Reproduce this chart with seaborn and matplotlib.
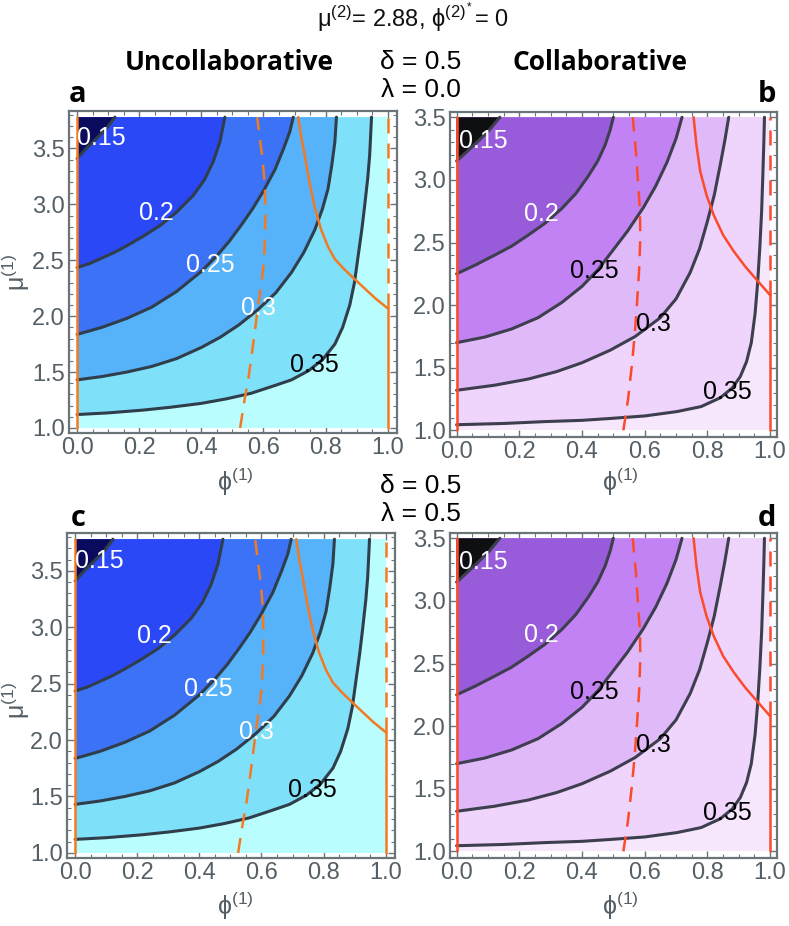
import matplotlib
matplotlib.use("Agg")
import numpy as np
import pandas as pd
import matplotlib.pyplot as plt
import seaborn as sns

# contour levels and label text
levels = [0.15, 0.2, 0.25, 0.3, 0.35]
level_labels = ["0.15", "0.2", "0.25", "0.3", "0.35"]

# ---- Uncollaborative (panels a, c): contour lines ----
u15_phi = [0.0, 0.03, 0.063, 0.095, 0.122]
u15_mu = [3.41, 3.50, 3.59, 3.68, 3.78]
u20_phi = [0.0, 0.04, 0.08, 0.12, 0.16, 0.21, 0.267, 0.32, 0.374, 0.41, 0.438, 0.46, 0.476]
u20_mu = [2.435, 2.47, 2.52, 2.57, 2.63, 2.71, 2.81, 2.93, 3.08, 3.22, 3.38, 3.56, 3.78]
u25_phi = [0.0, 0.08, 0.16, 0.24, 0.32, 0.40, 0.45, 0.49, 0.53, 0.565, 0.60, 0.637, 0.665, 0.685, 0.696]
u25_mu = [1.837, 1.90, 1.98, 2.08, 2.22, 2.40, 2.54, 2.67, 2.82, 2.96, 3.12, 3.31, 3.50, 3.65, 3.78]
u30_phi = [0.0, 0.08, 0.16, 0.24, 0.32, 0.40, 0.46, 0.52, 0.583, 0.64, 0.69, 0.73, 0.765, 0.79,
           0.808, 0.82, 0.83, 0.835]
u30_mu = [1.43, 1.46, 1.50, 1.55, 1.62, 1.72, 1.81, 1.92, 2.06, 2.21, 2.39, 2.57, 2.77, 2.96,
          3.14, 3.35, 3.56, 3.78]
u35_phi = [0.0, 0.1, 0.213, 0.30, 0.40, 0.48, 0.56, 0.637, 0.69, 0.744, 0.79, 0.83, 0.855, 0.878,
           0.893, 0.905, 0.917, 0.926, 0.936, 0.942, 0.948]
u35_mu = [1.12, 1.135, 1.16, 1.185, 1.22, 1.26, 1.31, 1.38, 1.43, 1.51, 1.61, 1.75, 1.90, 2.10,
          2.30, 2.54, 2.78, 2.99, 3.24, 3.44, 3.78]
u_orange_phi = [0.712, 0.722, 0.733, 0.748, 0.765, 0.785, 0.808, 0.83, 0.86, 0.894, 0.925, 0.96, 1.0]
u_orange_mu = [3.78, 3.60, 3.44, 3.20, 2.98, 2.78, 2.62, 2.51, 2.42, 2.33, 2.25, 2.16, 2.07]
u_dash_phi = [0.525, 0.54, 0.552, 0.562, 0.573, 0.583, 0.594, 0.600, 0.605, 0.606, 0.605, 0.600,
              0.595, 0.588, 0.583, 0.58]
u_dash_mu = [1.0, 1.265, 1.45, 1.65, 1.88, 2.10, 2.30, 2.45, 2.69, 2.92, 3.14, 3.32,
             3.45, 3.60, 3.71, 3.78]
u_label_phi = [0.079, 0.256, 0.428, 0.583, 0.765]
u_label_mu = [3.59, 2.92, 2.455, 2.07, 1.56]
u_mu_top = 3.78
u_switch_mu = 2.07

# ---- Collaborative (panels b, d) ----
c15_phi = [0.0, 0.035, 0.069, 0.105, 0.138]
c15_mu = [3.15, 3.23, 3.31, 3.40, 3.50]
c20_phi = [0.0, 0.06, 0.122, 0.175, 0.229, 0.28, 0.335, 0.38, 0.42, 0.45, 0.474, 0.49, 0.50]
c20_mu = [2.25, 2.32, 2.40, 2.47, 2.56, 2.65, 2.77, 2.89, 3.03, 3.15, 3.28, 3.40, 3.50]
c25_phi = [0.0, 0.09, 0.176, 0.26, 0.335, 0.40, 0.45, 0.49, 0.545, 0.596, 0.635, 0.671, 0.70, 0.719]
c25_mu = [1.70, 1.745, 1.81, 1.90, 2.02, 2.15, 2.28, 2.41, 2.59, 2.78, 2.95, 3.14, 3.33, 3.50]
c30_phi = [0.0, 0.12, 0.229, 0.32, 0.40, 0.49, 0.57, 0.65, 0.70, 0.745, 0.775, 0.799, 0.822,
           0.841, 0.856, 0.868]
c30_mu = [1.32, 1.36, 1.41, 1.47, 1.54, 1.64, 1.75, 1.90, 2.05, 2.26, 2.45, 2.66, 2.88,
          3.12, 3.32, 3.50]
c35_phi = [0.0, 0.15, 0.282, 0.40, 0.49, 0.60, 0.703, 0.78, 0.841, 0.88, 0.905, 0.925, 0.94,
           0.952, 0.96, 0.967, 0.973, 0.977, 0.98, 0.982]
c35_mu = [1.045, 1.055, 1.07, 1.08, 1.095, 1.115, 1.15, 1.19, 1.26, 1.34, 1.43, 1.55, 1.70,
          1.93, 2.17, 2.45, 2.75, 3.05, 3.30, 3.50]
c_orange_phi = [0.756, 0.765, 0.777, 0.797, 0.82, 0.85, 0.884, 0.92, 0.958, 1.0]
c_orange_mu = [3.50, 3.28, 3.07, 2.88, 2.72, 2.56, 2.43, 2.31, 2.20, 2.08]
c_dash_phi = [0.532, 0.547, 0.559, 0.568, 0.575, 0.582, 0.586, 0.585, 0.58, 0.573, 0.564, 0.562]
c_dash_mu = [1.0, 1.25, 1.52, 1.76, 2.0, 2.27, 2.53, 2.75, 2.93, 3.20, 3.44, 3.50]
c_label_phi = [0.085, 0.272, 0.44, 0.628, 0.863]
c_label_mu = [3.31, 2.73, 2.27, 1.85, 1.31]
c_mu_top = 3.5
c_switch_mu = 2.08

u_fill = ["#0b0b5e", "#2b48f7", "#3b72f6", "#56b2f9", "#7fe0fa", "#b9fdfe"]
c_fill = ["#0d0f10", "#985bd9", "#c382f4", "#e0b9f8", "#efd4fb", "#f6e7fd"]
u_label_col = ["white", "white", "white", "white", "black"]
c_label_col = ["white", "white", "black", "black", "black"]

W, H = 789, 926
FRAME = "#6b7478"
TXT = "#545f66"

sns.set_theme(style="ticks")
plt.rcParams["font.family"] = ["Liberation Sans", "DejaVu Sans"]
plt.rcParams["mathtext.fontset"] = "custom"
plt.rcParams["mathtext.rm"] = "Liberation Sans"
plt.rcParams["mathtext.it"] = "Liberation Sans"
plt.rcParams["mathtext.default"] = "regular"

fig = plt.figure(figsize=(W / 100, H / 100), dpi=100)


def rect(l, t, r, b):
    return [l / W, 1 - b / H, (r - l) / W, (b - t) / H]


def panel(ax, curves, fills, lab_phi, lab_mu, lab_col, orange, dash, mu_top,
          switch_mu, ocol, lcol, xlim, ylim):
    # background (highest values) then darker regions on top
    ax.fill_between([0, 1], 1.0, mu_top, color=fills[-1], lw=0, zorder=1)
    for k in range(len(levels) - 1, -1, -1):
        px, py = curves[k]
        ax.fill(list(px) + [0.0], list(py) + [mu_top], color=fills[k], lw=0, zorder=1 + len(levels) - k)
    for px, py in curves:
        sns.lineplot(x=px, y=py, sort=False, estimator=None, ax=ax, color=lcol, lw=2.2, zorder=10)
    # orange boundaries
    sns.lineplot(x=[0.0, 0.0], y=[1.0, mu_top], sort=False, estimator=None, ax=ax, color=ocol, lw=1.8, zorder=12)
    sns.lineplot(x=[1.0, 1.0], y=[1.0, switch_mu], sort=False, estimator=None, ax=ax, color=ocol, lw=1.8, zorder=12)
    sns.lineplot(x=orange[0], y=orange[1], sort=False, estimator=None, ax=ax, color=ocol, lw=1.8, zorder=12)
    sns.lineplot(x=[1.0, 1.0], y=[switch_mu, mu_top], sort=False, estimator=None, ax=ax, color=ocol, lw=1.8,
                 linestyle=(0, (6, 4)), zorder=12)
    sns.lineplot(x=dash[0], y=dash[1], sort=False, estimator=None, ax=ax, color=ocol, lw=1.8,
                 linestyle=(0, (6, 4)), zorder=12)
    for t, x, y, c in zip(level_labels, lab_phi, lab_mu, lab_col):
        ax.text(x, y, t, color=c, fontsize=18, ha="center", va="center", zorder=20)

    ax.set_xlim(*xlim)
    ax.set_ylim(*ylim)
    ax.set_xticks([0.0, 0.2, 0.4, 0.6, 0.8, 1.0])
    ax.set_xticklabels(["0.0", "0.2", "0.4", "0.6", "0.8", "1.0"])
    ax.set_xticks(np.arange(0, 1.001, 0.05), minor=True)
    yt = [1.0, 1.5, 2.0, 2.5, 3.0, 3.5]
    ax.set_yticks(yt)
    ax.set_yticklabels([f"{v:.1f}" for v in yt])
    ax.set_yticks(np.arange(1.0, ylim[1], 0.1), minor=True)
    ax.tick_params(which="both", direction="in", top=True, right=True, color=FRAME,
                   labelcolor=TXT, labelsize=17, pad=3)
    ax.tick_params(which="major", length=5, width=1.0)
    ax.tick_params(which="minor", length=3, width=0.8)
    for s in ax.spines.values():
        s.set_color(FRAME)
        s.set_linewidth(1.6)
    ax.set_xlabel("")
    ax.set_ylabel("")


u_curves = [(u15_phi, u15_mu), (u20_phi, u20_mu), (u25_phi, u25_mu), (u30_phi, u30_mu), (u35_phi, u35_mu)]
c_curves = [(c15_phi, c15_mu), (c20_phi, c20_mu), (c25_phi, c25_mu), (c30_phi, c30_mu), (c35_phi, c35_mu)]

u_args = dict(curves=u_curves, fills=u_fill, lab_phi=u_label_phi, lab_mu=u_label_mu, lab_col=u_label_col,
              orange=(u_orange_phi, u_orange_mu), dash=(u_dash_phi, u_dash_mu), mu_top=u_mu_top,
              switch_mu=u_switch_mu, ocol="#f37a21", lcol="#2f3e4a",
              xlim=(-0.026, 1.03), ylim=(0.955, 3.835))
c_args = dict(curves=c_curves, fills=c_fill, lab_phi=c_label_phi, lab_mu=c_label_mu, lab_col=c_label_col,
              orange=(c_orange_phi, c_orange_mu), dash=(c_dash_phi, c_dash_mu), mu_top=c_mu_top,
              switch_mu=c_switch_mu, ocol="#fb4b2a", lcol="#3d3e4e",
              xlim=(-0.021, 1.022), ylim=(0.947, 3.542))

ax_a = fig.add_axes(rect(69, 111, 397, 433))
panel(ax_a, **u_args)
ax_b = fig.add_axes(rect(450, 112, 777, 437))
panel(ax_b, **c_args)
ax_c = fig.add_axes(rect(67, 533, 395, 858))
panel(ax_c, **u_args)
ax_d = fig.add_axes(rect(450, 533, 777, 858))
panel(ax_d, **c_args)


def ftext(x, y, s, **kw):
    fig.text(x / W, 1 - y / H, s, ha="center", va="center", **kw)


ftext(413, 18, r"$\mu^{(2)}$= 2.88, $\phi^{(2)^*}$= 0", fontsize=17, color="#111111")
ftext(229, 63, "Uncollaborative", fontsize=19, fontweight="bold", family="Open Sans", color="black")
ftext(600, 63, "Collaborative", fontsize=19, fontweight="bold", family="Open Sans", color="black")
ftext(421, 62, "δ = 0.5", fontsize=19, color="black")
ftext(421, 90, "λ = 0.0", fontsize=19, color="black")
ftext(421, 486, "δ = 0.5", fontsize=19, color="black")
ftext(421, 514, "λ = 0.5", fontsize=19, color="black")
ftext(78, 95, "a", fontsize=21, fontweight="bold", family="Open Sans", color="black")
ftext(767, 95, "b", fontsize=21, fontweight="bold", family="Open Sans", color="black")
ftext(78, 519, "c", fontsize=21, fontweight="bold", family="Open Sans", color="black")
ftext(767, 519, "d", fontsize=21, fontweight="bold", family="Open Sans", color="black")
for x, y in [(235, 482), (620, 482), (235, 906), (620, 906)]:
    ftext(x, y, r"$\phi^{(1)}$", fontsize=18, color=TXT)
for y in [272, 700]:
    ftext(16, y, r"$\mu^{(1)}$", fontsize=18, color=TXT, rotation=90)

fig.savefig("out.png", dpi=100)
